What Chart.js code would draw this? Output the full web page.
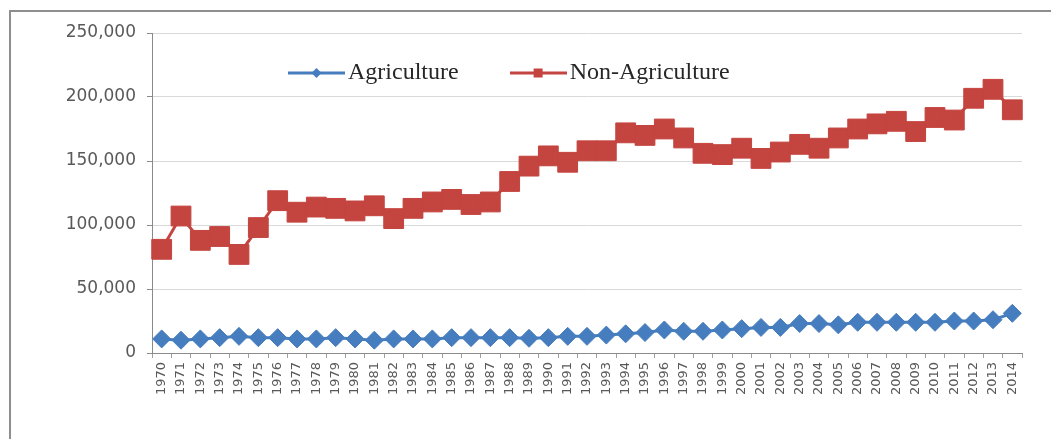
<!DOCTYPE html>
<html>
<head>
<meta charset="utf-8">
<title>Agriculture vs Non-Agriculture</title>
<script src="https://cdn.jsdelivr.net/npm/chart.js@4.4.1/dist/chart.umd.min.js"></script>
<style>
  html, body { margin: 0; padding: 0; background: #fff; }
  #wrap { position: relative; width: 1051px; height: 439px; overflow: hidden; }
  #frame { position: absolute; left: 9px; top: 10px; width: 1100px; height: 500px;
           border-left: 2px solid #8e8e8e; border-top: 2px solid #8e8e8e; }
  #chart { position: absolute; left: 0; top: 0; }
</style>
</head>
<body>
<div id="wrap">
  <div id="frame"></div>
  <canvas id="chart" width="1051" height="439"></canvas>
</div>
<script>
// categories
const years = ['1970', '1971', '1972', '1973', '1974', '1975', '1976', '1977', '1978', '1979',
               '1980', '1981', '1982', '1983', '1984', '1985', '1986', '1987', '1988', '1989',
               '1990', '1991', '1992', '1993', '1994', '1995', '1996', '1997', '1998', '1999',
               '2000', '2001', '2002', '2003', '2004', '2005', '2006', '2007', '2008', '2009',
               '2010', '2011', '2012', '2013', '2014'];

// series
const agriculture = [11000, 10000, 11000, 12000, 13000, 12000, 12000, 11000, 11000, 12000,
                     11000, 10000, 11000, 11000, 11000, 12000, 12000, 12000, 12000, 11500,
                     12000, 13000, 13000, 14000, 15000, 16000, 18000, 17000, 17000, 18000,
                     19000, 20000, 20000, 23000, 23000, 22000, 24000, 24000, 24000, 24000,
                     24000, 25000, 25000, 26000, 31000];

const nonAgriculture = [81000, 107000, 88000, 91000, 77000, 98000, 119000, 110000, 114000, 113000,
                        111000, 115000, 105000, 113000, 118000, 120000, 116000, 118000, 134000, 146000,
                        154000, 149000, 158000, 158000, 172000, 170000, 175000, 168000, 156000, 155000,
                        160000, 152000, 157000, 163000, 160000, 168000, 175000, 179000, 181000, 173000,
                        184000, 182000, 199000, 206000, 190000];

// y axis
const yMin = 0;
const yMax = 250000;
const yStep = 50000;

const blue = '#467dbe';
const red = '#c4443f';

// little line + marker pictures for the legend (like Excel)
function legendIcon(color, shape) {
    const c = document.createElement('canvas');
    c.width = 57;
    c.height = 14;
    const g = c.getContext('2d');
    g.strokeStyle = color;
    g.lineWidth = 3;
    g.beginPath();
    g.moveTo(0, 7);
    g.lineTo(57, 7);
    g.stroke();
    g.fillStyle = color;
    g.beginPath();
    if (shape === 'diamond') {
        g.moveTo(28.5, 2); g.lineTo(33.5, 7); g.lineTo(28.5, 12); g.lineTo(23.5, 7);
    } else {
        g.rect(24, 2.5, 9, 9);
    }
    g.fill();
    return c;
}
const icons = [legendIcon(blue, 'diamond'), legendIcon(red, 'square')];

// move the legend inside the plot, under the top gridline
const legendInside = {
    id: 'legendInside',
    afterLayout(chart) {
        const lg = chart.legend;
        lg.left = 237;
        lg.right = 1051;
        lg.top = 1;
        lg.bottom = 110;
    }
};

const ctx = document.getElementById('chart').getContext('2d');

new Chart(ctx, {
    type: 'line',
    data: {
        labels: years,
        datasets: [
            {
                label: 'Agriculture',
                data: agriculture,
                borderColor: blue,
                backgroundColor: blue,
                borderWidth: 3,
                pointStyle: 'rectRot',
                pointRadius: 9,
                pointBorderWidth: 1,
                pointBorderColor: blue,
                pointBackgroundColor: blue,
                fill: false
            },
            {
                label: 'Non-Agriculture',
                data: nonAgriculture,
                borderColor: red,
                backgroundColor: red,
                borderWidth: 3,
                pointStyle: 'rect',
                pointRadius: 14,
                pointBorderWidth: 1,
                pointBorderColor: red,
                pointBackgroundColor: red,
                fill: false
            }
        ]
    },
    options: {
        responsive: false,
        animation: false,
        layout: {
            padding: { left: 0, top: 32, right: 29, bottom: 0 }
        },
        plugins: {
            tooltip: { enabled: false },
            legend: {
                position: 'top',
                align: 'start',
                maxHeight: 1,
                labels: {
                    usePointStyle: true,
                    pointStyleWidth: 39,
                    padding: 60,
                    color: '#262626',
                    font: { family: "'Liberation Serif', 'Times New Roman', serif", size: 24 },
                    generateLabels: chart =>
                        Chart.defaults.plugins.legend.labels.generateLabels(chart)
                            .map((item, i) => Object.assign(item, { pointStyle: icons[i] }))
                }
            }
        },
        scales: {
            x: {
                offset: true,
                afterFit: s => { s.height = 86; },
                grid: {
                    drawOnChartArea: false,
                    offset: true,
                    tickLength: 5,
                    tickColor: '#a0a0a0'
                },
                border: { color: '#8a8a8a', width: 1 },
                ticks: {
                    autoSkip: false,
                    minRotation: 90,
                    maxRotation: 90,
                    padding: 4,
                    color: '#595959',
                    font: { family: "'DejaVu Sans', sans-serif", size: 13 }
                }
            },
            y: {
                min: yMin,
                max: yMax,
                afterFit: s => { s.width = 152; },
                grid: {
                    color: '#d9d9d9',
                    tickColor: '#8a8a8a',
                    tickLength: 5
                },
                border: { color: '#8a8a8a', width: 1 },
                ticks: {
                    stepSize: yStep,
                    padding: 11,
                    color: '#595959',
                    font: { family: "'DejaVu Sans', sans-serif", size: 17 },
                    callback: v => v.toLocaleString('en-US')
                }
            }
        }
    },
    plugins: [legendInside]
});
</script>
</body>
</html>
